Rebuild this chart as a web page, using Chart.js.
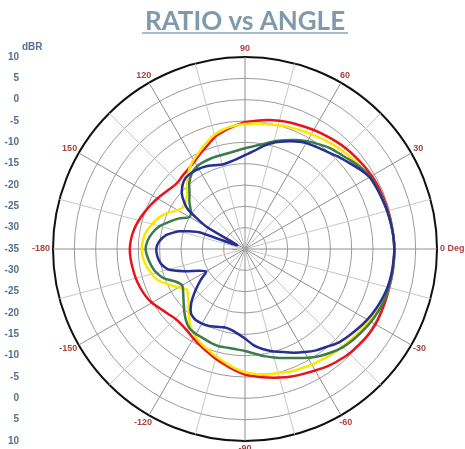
<!DOCTYPE html>
<html>
<head>
<meta charset="utf-8">
<script src="https://cdn.jsdelivr.net/npm/chart.js@4"></script>
<style>
  html, body { margin: 0; padding: 0; background: #fff; overflow: hidden; }
  #wrap { width: 465px; height: 449px; }
</style>
</head>
<body>
<div id="wrap"><canvas id="chart"></canvas></div>
<script>
// Angles in degrees, clockwise from 0 (radar index 0 sits at the right)
const angles = [0, -5, -10, -15, -20, -25, -30, -35, -40, -45, -50, -55,
  -60, -65, -70, -75, -80, -85, -90, -95, -100, -105, -110, -115,
  -120, -125, -130, -135, -140, -145, -150, -155, -160, -165, -170, -175,
  -180, 175, 170, 165, 160, 155, 150, 145, 140, 135, 130, 125,
  120, 115, 110, 105, 100, 95, 90, 85, 80, 75, 70, 65,
  60, 55, 50, 45, 40, 35, 30, 25, 20, 15, 10, 5];

// dBR values, same order as angles
const redCurve = [0, 0, 0, 0, 0.1, 0.2, 0.3, 0.2, -0.1, -0.4, -0.9, -1.4,
  -2.1, -2.7, -3.2, -3.8, -4.4, -5.0, -5.6, -6.5, -7.5, -8.4, -9.3, -10.1,
  -10.8, -11.5, -11.9, -11.9, -11.4, -10.7, -9.8, -9.2, -8.8, -8.5, -8.3, -8.1,
  -8.0, -8.2, -8.6, -9.2, -9.9, -10.6, -11.3, -12.0, -12.6, -12.8, -12.4, -12.0,
  -11.3, -10.3, -9.2, -7.8, -6.9, -6.1, -5.3, -4.8, -4.3, -3.9, -3.5, -3.2,
  -2.8, -2.4, -2.0, -1.6, -1.3, -1.0, -0.7, -0.5, -0.4, -0.3, -0.2, -0.1];

const yellowCurve = [0, 0, 0, -0.1, -0.3, -0.8, -1.4, -1.9, -2.3, -2.7, -3.0, -3.4,
  -3.7, -4.1, -4.4, -4.9, -5.2, -5.6, -6.1, -7.0, -8.0, -8.9, -9.8, -10.6,
  -11.5, -12.8, -14.6, -16.4, -17.6, -18.4, -17.0, -15.3, -13.4, -12.4, -11.6, -11.0,
  -10.8, -11.0, -11.5, -12.5, -13.5, -15.0, -16.8, -17.5, -17.0, -15.9, -14.0, -12.2,
  -10.9, -9.8, -8.5, -7.3, -6.5, -6.0, -5.7, -5.5, -5.3, -5.0, -4.6, -4.3,
  -3.9, -3.5, -3.0, -2.6, -2.1, -1.7, -1.3, -1.0, -0.7, -0.5, -0.3, -0.1];

const greenCurve = [0, 0, 0, -0.1, -0.2, -0.5, -0.9, -1.4, -1.9, -2.5, -3.4, -4.4,
  -5.6, -6.8, -7.8, -8.7, -9.5, -10.4, -11.1, -11.4, -11.5, -11.4, -11.6, -11.9,
  -12.0, -12.3, -13.4, -14.8, -16.2, -17.3, -18.0, -17.0, -14.8, -13.5, -12.7, -12.1,
  -11.7, -12.1, -13.0, -14.3, -16.2, -18.0, -20.0, -19.5, -18.0, -16.6, -14.7, -13.3,
  -12.6, -12.4, -12.3, -12.3, -12.2, -11.9, -11.4, -10.8, -10.0, -8.9, -7.9, -6.8,
  -5.8, -5.0, -4.1, -3.5, -2.7, -1.8, -1.1, -0.9, -0.7, -0.5, -0.3, -0.1];

const blueCurve = [0, -0.1, -0.2, -0.4, -0.8, -1.3, -1.9, -2.6, -3.3, -4.0, -5.1, -6.0,
  -7.1, -8.2, -9.3, -10.2, -11.2, -12.4, -14.0, -15.1, -15.8, -16.0, -15.6, -15.1,
  -14.8, -14.7, -15.3, -17.2, -19.8, -22.3, -24.5, -23.0, -19.8, -16.4, -15.0, -14.4,
  -14.2, -14.8, -16.2, -19.0, -23.5, -33.0, -24.5, -18.5, -15.8, -14.2, -13.3, -13.2,
  -13.3, -13.6, -14.1, -14.5, -14.3, -13.8, -13.0, -12.0, -10.5, -9.2, -8.2, -7.2,
  -6.3, -5.8, -5.2, -4.3, -3.4, -2.3, -1.3, -1.0, -0.8, -0.5, -0.3, -0.1];

// Scale labels drawn down the left side
const dbTicks = [10, 5, 0, -5, -10, -15, -20, -25, -30, -35];

// Angle labels, left dBR column and title underline
const sidePlugin = {
  id: 'side',
  afterDraw(chart) {
    const c = chart.ctx;
    const r = chart.scales.r;
    c.save();
    c.textBaseline = 'middle';

    // angle labels every 30 degrees
    c.font = 'bold 9px "Liberation Sans", Arial, sans-serif';
    c.fillStyle = '#a8443f';
    c.textAlign = 'center';
    angles.forEach((a, i) => {
      if (a % 30 !== 0) return;
      const txt = a === 0 ? '0 Deg' : String(a);
      const w = c.measureText(txt).width;
      const p = r.getPointPosition(i, r.drawingArea + 3);
      const ang = r.getIndexAngle(i) - Math.PI / 2;
      c.fillText(txt, p.x + Math.cos(ang) * w / 2, p.y + Math.sin(ang) * 5);
    });
    // small tick between "-180" and the outer ring
    const edge = r.getPointPosition(36, 10);
    c.strokeStyle = '#8e8e8e';
    c.lineWidth = 1;
    c.beginPath();
    c.moveTo(edge.x - 3, edge.y + 0.5);
    c.lineTo(edge.x + 2, edge.y + 0.5);
    c.stroke();

    // dBR column
    c.font = 'bold 10px "Liberation Sans", Arial, sans-serif';
    c.fillStyle = '#55708e';
    c.textAlign = 'right';
    dbTicks.forEach(v => {
      const d = r.getDistanceFromCenterForValue(v);
      c.fillText(String(v), 19, r.yCenter - d);
      if (v !== -35) c.fillText(String(v), 19, r.yCenter + d);
    });
    c.textAlign = 'left';
    c.fillText('dBR', 22, r.yCenter - r.getDistanceFromCenterForValue(10) - 10);

    // underline of the title
    const t = chart.titleBlock;
    c.font = 'bold 26px Lato, sans-serif';
    const w = c.measureText(t.options.text).width;
    const cx = (t.left + t.right) / 2;
    c.strokeStyle = '#a8bccb';
    c.lineWidth = 2;
    c.beginPath();
    c.moveTo(cx - w / 2 - 3, t.top + 33);
    c.lineTo(cx + w / 2 + 3, t.top + 33);
    c.stroke();
    c.restore();
  }
};

function curve(label, data, color, order) {
  return {
    label: label,
    data: data,
    borderColor: color,
    borderWidth: 2.5,
    pointRadius: 0,
    fill: false,
    tension: 0.2,
    order: order
  };
}

new Chart(document.getElementById('chart'), {
  type: 'radar',
  data: {
    labels: angles,
    datasets: [
      curve('Red', redCurve, '#e8141c', 4),
      curve('Yellow', yellowCurve, '#fde600', 3),
      curve('Green', greenCurve, '#3e7a4e', 2),
      curve('Blue', blueCurve, '#262f93', 1)
    ]
  },
  options: {
    responsive: true,
    maintainAspectRatio: false,
    animation: false,
    layout: { padding: { left: 40, right: 15, top: 0, bottom: 7 } },
    plugins: {
      legend: { display: false },
      tooltip: { enabled: false },
      title: {
        display: true,
        text: 'RATIO vs ANGLE',
        color: '#7f99ad',
        font: { family: 'Lato', size: 26, weight: 'bold' },
        padding: { top: 6, bottom: 20 }
      }
    },
    scales: {
      r: {
        min: -35,
        max: 10,
        startAngle: 90,
        ticks: { display: false, stepSize: 5 },
        grid: {
          circular: true,
          color: ctx => ctx.tick.value === 10 ? '#111' : '#9a9a9a',
          lineWidth: ctx => ctx.tick.value === 10 ? 2 : 1
        },
        angleLines: {
          color: ctx => ctx.index % 6 === 0 ? '#8e8e8e' : (ctx.index % 3 === 0 ? '#c6c6c6' : 'rgba(0,0,0,0)'),
          lineWidth: 1
        },
        pointLabels: { display: false }
      }
    }
  },
  plugins: [sidePlugin]
});
</script>
</body>
</html>
